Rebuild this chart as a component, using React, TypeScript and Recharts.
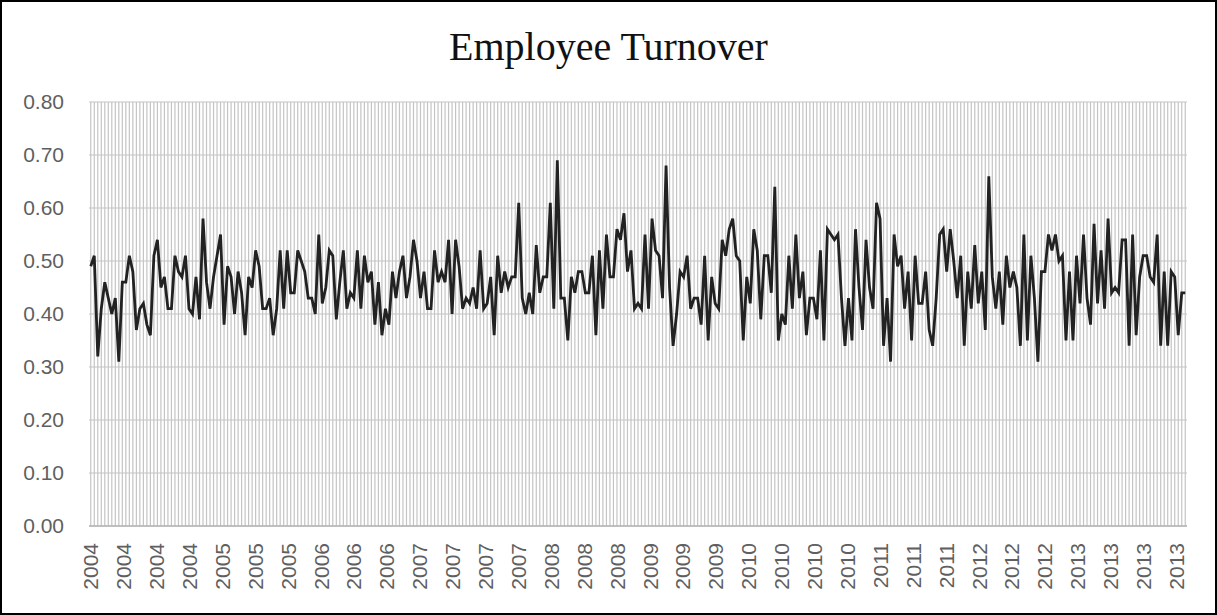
import { CartesianGrid, Line, LineChart, XAxis, YAxis } from "recharts"

// Turnover rate per period, 2004 through early 2013
const turnover = [
  0.49, 0.51, 0.32, 0.41, 0.46, 0.43, 0.40, 0.43, 0.31, 0.46,
  0.46, 0.51, 0.48, 0.37, 0.41, 0.42, 0.38, 0.36, 0.51, 0.54,
  0.45, 0.47, 0.41, 0.41, 0.51, 0.48, 0.47, 0.51, 0.41, 0.40,
  0.47, 0.39, 0.58, 0.46, 0.41, 0.47, 0.51, 0.55, 0.38, 0.49,
  0.47, 0.40, 0.48, 0.44, 0.36, 0.47, 0.45, 0.52, 0.49, 0.41,
  0.41, 0.43, 0.36, 0.41, 0.52, 0.41, 0.52, 0.44, 0.44, 0.52,
  0.50, 0.48, 0.43, 0.43, 0.40, 0.55,
  0.42, 0.45, 0.52, 0.51, 0.39, 0.46, 0.52, 0.41, 0.44, 0.43,
  0.52, 0.41, 0.51, 0.46, 0.48, 0.38, 0.46, 0.36, 0.41, 0.38,
  0.48, 0.43, 0.48, 0.51, 0.43, 0.47, 0.54, 0.50, 0.43, 0.48,
  0.41, 0.41, 0.52, 0.46, 0.48, 0.46, 0.54, 0.40, 0.54, 0.49,
  0.41, 0.43, 0.42, 0.45, 0.41, 0.52, 0.41, 0.42, 0.47,
  0.36, 0.51, 0.44, 0.48, 0.45, 0.47, 0.47, 0.61, 0.43, 0.40,
  0.44, 0.40, 0.53, 0.44, 0.47, 0.47, 0.61, 0.41, 0.69, 0.43,
  0.43, 0.35, 0.47, 0.44, 0.48, 0.48, 0.44, 0.44, 0.51, 0.36,
  0.52, 0.41, 0.55, 0.47, 0.47, 0.56, 0.54, 0.59, 0.48, 0.52,
  0.41, 0.42, 0.41, 0.55, 0.41, 0.58, 0.52, 0.51, 0.43, 0.68,
  0.45, 0.34, 0.40, 0.48,
  0.47, 0.51, 0.41, 0.43, 0.43, 0.38, 0.51, 0.35, 0.47, 0.42,
  0.41, 0.54, 0.51, 0.56, 0.58, 0.51, 0.50, 0.35, 0.47, 0.42,
  0.56, 0.52, 0.39, 0.51, 0.51, 0.44, 0.64, 0.35, 0.40, 0.38,
  0.51, 0.41, 0.55, 0.43, 0.48, 0.36, 0.43, 0.43, 0.39, 0.52,
  0.35, 0.56, 0.55, 0.54, 0.55, 0.43, 0.34, 0.43, 0.35, 0.56,
  0.45, 0.37, 0.54,
  0.45, 0.41, 0.61, 0.58, 0.34, 0.43, 0.31, 0.55, 0.49, 0.51,
  0.41, 0.48, 0.35, 0.51, 0.42, 0.42, 0.48, 0.37, 0.34, 0.43,
  0.55, 0.56, 0.48, 0.56, 0.50, 0.43, 0.51, 0.34, 0.48, 0.41,
  0.53, 0.42, 0.48, 0.37, 0.66, 0.47, 0.41, 0.48, 0.38, 0.51,
  0.45, 0.48, 0.45, 0.34, 0.55, 0.35, 0.51, 0.43, 0.31,
  0.48, 0.48, 0.55, 0.52, 0.55, 0.50, 0.51, 0.35, 0.48, 0.35,
  0.51, 0.42, 0.55, 0.43, 0.38, 0.57, 0.42, 0.52, 0.41, 0.58,
  0.44, 0.45, 0.44, 0.54, 0.54, 0.34, 0.55, 0.36, 0.47, 0.51,
  0.51, 0.47, 0.46, 0.55, 0.34, 0.48, 0.34, 0.48, 0.47, 0.36,
  0.44, 0.44,
]

const yearLabels = [
  "2004", "2004", "2004", "2004", "2005", "2005", "2005",
  "2006", "2006", "2006", "2007", "2007", "2007", "2007",
  "2008", "2008", "2008", "2009", "2009", "2009",
  "2010", "2010", "2010", "2010", "2011", "2011", "2011",
  "2012", "2012", "2012", "2013", "2013", "2013", "2013",
]

const yTicks = [0, 0.1, 0.2, 0.3, 0.4, 0.5, 0.6, 0.7, 0.8]

const data = turnover.map((value, idx) => ({ idx, value }))

// year labels are spread evenly, the last one a few periods short of the end
const labelStep = (turnover.length - 3.5) / (yearLabels.length - 1)
const xTicks = yearLabels.map((_, i) => i * labelStep)

const gridX = ({ xAxis, offset }: any) => {
  const scale = xAxis?.scale
  if (typeof scale === "function") return data.map((d) => scale(d.idx))
  const step = offset.width / data.length
  return data.map((d) => offset.left + (d.idx + 0.5) * step)
}

const YearTick = ({ x, y, index }: any) => (
  <text
    x={x}
    y={y}
    transform={`rotate(-90 ${x} ${y})`}
    textAnchor="end"
    dominantBaseline="central"
    fill="#5f5f5f"
    fontSize={21}
    fontFamily="Liberation Sans, Arial, sans-serif"
  >
    {yearLabels[index]}
  </text>
)

export default function App() {
  return (
    <div
      style={{
        position: "absolute",
        left: 0,
        top: 0,
        width: 1217,
        height: 615,
        boxSizing: "border-box",
        border: "2px solid #000",
        background: "#fff",
        overflow: "hidden",
      }}
    >
      <div
        style={{
          position: "absolute",
          left: 0,
          top: 25,
          width: 1213,
          textAlign: "center",
          fontFamily: "Liberation Serif, Times New Roman, serif",
          fontSize: 40,
          lineHeight: "40px",
          color: "#111",
        }}
      >
        Employee Turnover
      </div>
      <div style={{ position: "absolute", left: -2, top: -2 }}>
        <LineChart
          width={1217}
          height={615}
          data={data}
          margin={{ top: 102, right: 30, bottom: 0, left: 0 }}
        >
          <CartesianGrid
            stroke="#c4c4c4"
            strokeWidth={1.2}
            verticalCoordinatesGenerator={gridX}
          />
          <XAxis
            dataKey="idx"
            type="number"
            domain={[-0.5, turnover.length - 0.5]}
            ticks={xTicks}
            interval={0}
            height={89}
            tickSize={0}
            tickMargin={17}
            tick={<YearTick />}
            axisLine={{ stroke: "#b5b5b5", strokeWidth: 1.5 }}
            tickLine={false}
          />
          <YAxis
            domain={[0, 0.8]}
            ticks={yTicks}
            width={89}
            tickSize={0}
            tickMargin={25}
            axisLine={false}
            tickLine={false}
            tickFormatter={(v: number) => v.toFixed(2)}
            tick={{
              fill: "#5f5f5f",
              fontSize: 21,
              fontFamily: "Liberation Sans, Arial, sans-serif",
            }}
          />
          <Line
            dataKey="value"
            type="linear"
            stroke="#222"
            strokeWidth={2.8}
            dot={false}
            isAnimationActive={false}
          />
        </LineChart>
      </div>
    </div>
  )
}
